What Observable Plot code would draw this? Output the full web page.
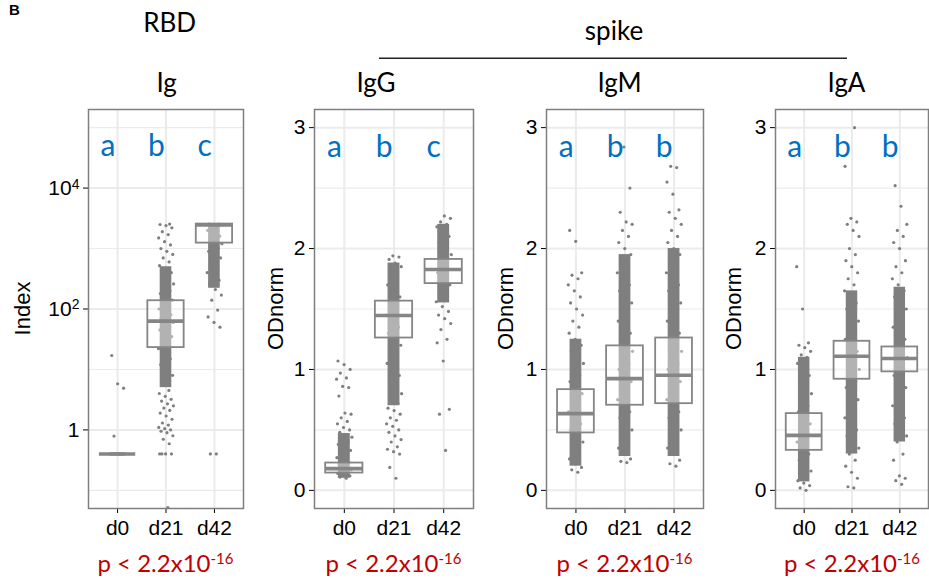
<!DOCTYPE html>
<html><head><meta charset="utf-8">
<script src="https://cdn.jsdelivr.net/npm/d3@7"></script>
<script src="https://cdn.jsdelivr.net/npm/@observablehq/plot@0.6"></script>
<style>
body{margin:0;background:#fff;}
#wrap{position:relative;width:929px;height:580px;overflow:hidden;background:#fff;}
.panel{position:absolute;top:0;}
#ann{position:absolute;left:0;top:0;pointer-events:none;}
</style></head><body><div id="wrap"></div>
<script>
const groups = ["d0", "d21", "d42"];

// ---- RBD Ig (Index, log scale) ----
const igQ1 = [0.4, 23, 1230];
const igMed = [0.4, 63, 2450];
const igQ3 = [0.4, 137, 2540];
const igCoreLo = [0.4, 5, 220];
const igCoreHi = [0.4, 500, 2540];
const igD0 = [0.4,0.4,0.4,0.4,0.4,0.4,0.4,0.4,0.4,0.4,0.4,0.4,0.4,0.4,0.79,4.9,5.8,17];
const igD21 = [0.052,0.4,0.4,0.4,0.4,0.59,0.7,0.8,0.9,0.95,1.0,1.05,1.1,1.2,1.3,1.5,1.7,1.9,2.1,2.3,2.5,2.7,3.0,3.2,3.6,4.0,4.5,6,8,10,12,15,18,22,26,30,35,40,45,50,55,60,65,70,80,90,100,110,120,140,160,180,200,230,260,300,350,400,450,520,600,700,800,900,1000,1150,1300,1500,1700,1900,2200,2400,2500,2540];
const igD42 = [0.4,0.4,50,60,74,96,140,170,210,260,300,350,400,500,600,700,800,900,1000,1100,1200,1300,1400,1600,1800,2000,2200,2350,2450,2500,2540,2540];
const igLetters = ["a", "b", "c"];

// ---- spike IgG (ODnorm) ----
const gQ1 = [0.143, 1.26, 1.71];
const gMed = [0.18, 1.446, 1.827];
const gQ3 = [0.226, 1.565, 1.91];
const gCoreLo = [0.1, 0.7, 1.55];
const gCoreHi = [0.47, 1.88, 2.2];
const gD0 = [0.1,0.11,0.12,0.13,0.14,0.15,0.16,0.17,0.19,0.21,0.23,0.25,0.27,0.29,0.31,0.33,0.35,0.38,0.4,0.42,0.44,0.46,0.48,0.5,0.52,0.55,0.57,0.6,0.63,0.64,0.78,0.85,0.86,0.92,0.93,0.97,1.0,1.04,1.07];
const gD21 = [0.1,0.19,0.3,0.32,0.34,0.36,0.4,0.42,0.45,0.48,0.5,0.53,0.55,0.58,0.6,0.63,0.66,0.68,0.72,0.75,0.8,0.85,0.9,0.95,1.0,1.05,1.1,1.15,1.2,1.25,1.3,1.35,1.4,1.45,1.5,1.55,1.6,1.65,1.7,1.75,1.8,1.85,1.88,1.91,1.93,1.94];
const gD42 = [0.33,0.63,0.67,1.07,1.22,1.25,1.33,1.38,1.42,1.45,1.48,1.52,1.56,1.6,1.65,1.7,1.75,1.8,1.85,1.9,1.95,2.0,2.05,2.1,2.15,2.18,2.2,2.22,2.25,2.27];
const gLetters = ["a", "b", "c"];

// ---- spike IgM (ODnorm) ----
const mQ1 = [0.475, 0.704, 0.717];
const mMed = [0.635, 0.924, 0.952];
const mQ3 = [0.833, 1.195, 1.26];
const mCoreLo = [0.2, 0.28, 0.28];
const mCoreHi = [1.25, 1.95, 2.0];
const mD0 = [0.15,0.17,0.19,0.22,0.26,0.3,0.35,0.4,0.45,0.5,0.55,0.6,0.65,0.7,0.75,0.8,0.85,0.9,0.95,1.0,1.05,1.1,1.15,1.2,1.25,1.3,1.35,1.4,1.45,1.5,1.55,1.6,1.65,1.7,1.75,1.78,1.8,2.06,2.15];
const mD21 = [0.23,0.24,0.26,0.3,0.35,0.4,0.45,0.5,0.55,0.6,0.65,0.7,0.75,0.8,0.85,0.9,0.95,1.0,1.05,1.1,1.15,1.2,1.25,1.3,1.35,1.4,1.45,1.5,1.55,1.6,1.65,1.7,1.75,1.8,1.85,1.9,1.95,2.0,2.05,2.1,2.15,2.2,2.22,2.3,2.5,2.84];
const mD42 = [0.2,0.22,0.25,0.3,0.35,0.4,0.45,0.5,0.55,0.6,0.65,0.7,0.75,0.8,0.85,0.9,0.95,1.0,1.05,1.1,1.15,1.2,1.25,1.3,1.35,1.4,1.45,1.5,1.55,1.6,1.65,1.7,1.75,1.8,1.85,1.9,1.95,2.0,2.05,2.1,2.15,2.2,2.25,2.3,2.32,2.45,2.55,2.67,2.68];
const mLetters = ["a", "b", "b"];

// ---- spike IgA (ODnorm) ----
const aQ1 = [0.331, 0.919, 0.98];
const aMed = [0.455, 1.109, 1.09];
const aQ3 = [0.635, 1.233, 1.186];
const aCoreLo = [0.07, 0.3, 0.4];
const aCoreHi = [1.1, 1.65, 1.68];
const aD0 = [0.0,0.02,0.04,0.06,0.08,0.1,0.13,0.16,0.2,0.25,0.3,0.35,0.4,0.45,0.5,0.55,0.6,0.65,0.7,0.75,0.8,0.85,0.9,0.95,1.0,1.05,1.1,1.12,1.15,1.18,1.2,1.22,1.5,1.85];
const aD21 = [0.02,0.03,0.1,0.15,0.2,0.25,0.3,0.35,0.4,0.45,0.5,0.55,0.6,0.65,0.7,0.75,0.8,0.85,0.9,0.95,1.0,1.05,1.1,1.15,1.2,1.25,1.3,1.35,1.4,1.45,1.5,1.55,1.6,1.65,1.7,1.75,1.8,1.85,1.9,1.95,2.0,2.1,2.15,2.2,2.22,2.25,2.68,3.0];
const aD42 = [0.05,0.08,0.1,0.12,0.25,0.3,0.4,0.45,0.5,0.55,0.6,0.65,0.7,0.75,0.8,0.85,0.9,0.95,1.0,1.05,1.1,1.15,1.2,1.25,1.3,1.35,1.4,1.45,1.5,1.55,1.6,1.65,1.7,1.75,1.8,1.85,1.9,2.0,2.05,2.1,2.15,2.2,2.35,2.52];
const aLetters = ["a", "b", "b"];

const titles = ["Ig", "IgG", "IgM", "IgA"];
const yTitles = ["Index", "ODnorm", "ODnorm", "ODnorm"];
const pText = "p < 2.2x10";
const pExp = "-16";

// ---------------- drawing ----------------
const GREY = "#7f7f7f";
const GRID = "#ebebeb";
const LETTER = "#0070C0";
const sup = {2: "\u00b2", 4: "\u2074"};

function jitter(i) { return (((i + 1) * 0.6180339887) % 1 - 0.5) * 0.32; }

function panel(cfg) {
  const boxes = groups.map((g, i) => ({
    c: i + 1, q1: cfg.q1[i], med: cfg.med[i], q3: cfg.q3[i], lo: cfg.lo[i], hi: cfg.hi[i]
  }));
  const pts = cfg.vals.flatMap((arr, gi) => arr.map((v, j) => ({x: gi + 1 + jitter(j), y: v})));
  const lets = cfg.letters.map((t, i) => ({x: i + 1 - 0.2, y: cfg.letterY, t}));
  const svg = Plot.plot({
    width: cfg.ml + cfg.fw + cfg.mr,
    height: 580,
    marginTop: 109, marginBottom: 72, marginLeft: cfg.ml, marginRight: cfg.mr,
    style: {fontFamily: "'Liberation Sans', Arial, sans-serif", fontSize: "21px", color: "#000", background: "transparent", overflow: "visible"},
    x: {type: "linear", domain: [0.4, 3.6], ticks: [1, 2, 3], tickFormat: d => groups[d - 1], tickSize: 5, tickPadding: 7, label: null},
    y: Object.assign({tickSize: 5, tickPadding: 4, label: null}, cfg.y),
    marks: [
      Plot.ruleY(cfg.minor, {stroke: GRID, strokeWidth: 1.1}),
      Plot.ruleY(cfg.major, {stroke: GRID, strokeWidth: 2}),
      Plot.ruleX([1, 2, 3], {stroke: GRID, strokeWidth: 2}),
      Plot.rect(boxes, {x1: d => d.c - 0.12, x2: d => d.c + 0.12, y1: "lo", y2: "hi", fill: GREY}),
      Plot.dot(pts, {x: "x", y: "y", r: 1.6, fill: GREY}),
      Plot.rect(boxes, {x1: d => d.c - 0.375, x2: d => d.c + 0.375, y1: "q1", y2: "q3", fill: "white", fillOpacity: 0.4, stroke: "#858585", strokeWidth: 1.8}),
      Plot.ruleY(boxes, {y: "med", x1: d => d.c - 0.375, x2: d => d.c + 0.375, stroke: "#858585", strokeWidth: 3.6}),
      Plot.text(lets, {x: "x", y: "y", text: "t", fill: LETTER, fontSize: 30, fontFamily: "Lato, 'Open Sans', sans-serif"}),
      Plot.frame({stroke: GREY, strokeWidth: 1.5})
    ]
  });
  svg.querySelectorAll("text").forEach(t => {
    if (t.closest('g[fill="' + LETTER + '"]')) return;
    t.style.fontSize = "21px";
    const m = /^10([\u00b2\u2074])$/.exec(t.textContent);
    if (m) {
      const e = m[1] === "\u00b2" ? "2" : "4";
      t.textContent = "10";
      const ts = document.createElementNS("http://www.w3.org/2000/svg", "tspan");
      ts.setAttribute("dy", "-0.45em");
      ts.style.fontSize = "14px";
      ts.textContent = e;
      t.appendChild(ts);
    }
  });
  svg.classList.add("panel");
  svg.style.left = cfg.left + "px";
  document.getElementById("wrap").appendChild(svg);
}

panel({
  left: 0, ml: 88, fw: 155, mr: 6,
  y: {type: "log", domain: [Math.pow(10, -1.3), Math.pow(10, 5.3)], ticks: [1, 100, 10000],
      tickFormat: d => d === 1 ? "1" : "10" + sup[Math.round(Math.log10(d))]},
  major: [1, 100, 10000], minor: [0.1, 10, 1000, 100000],
  q1: igQ1, med: igMed, q3: igQ3, lo: igCoreLo, hi: igCoreHi,
  vals: [igD0, igD21, igD42], letters: igLetters, letterY: Math.pow(10, 4.69)
});
const linY = {domain: [-0.15, 3.15], ticks: [0, 1, 2, 3], tickFormat: d => String(d)};
panel({left: 250, ml: 64, fw: 159, mr: 6, y: linY, major: [0, 1, 2, 3], minor: [0.5, 1.5, 2.5],
  q1: gQ1, med: gMed, q3: gQ3, lo: gCoreLo, hi: gCoreHi, vals: [gD0, gD21, gD42], letters: gLetters, letterY: 2.84});
panel({left: 480, ml: 66, fw: 157, mr: 6, y: linY, major: [0, 1, 2, 3], minor: [0.5, 1.5, 2.5],
  q1: mQ1, med: mMed, q3: mQ3, lo: mCoreLo, hi: mCoreHi, vals: [mD0, mD21, mD42], letters: mLetters, letterY: 2.84});
panel({left: 710, ml: 65, fw: 153, mr: 1, y: linY, major: [0, 1, 2, 3], minor: [0.5, 1.5, 2.5],
  q1: aQ1, med: aMed, q3: aQ3, lo: aCoreLo, hi: aCoreHi, vals: [aD0, aD21, aD42], letters: aLetters, letterY: 2.84});

// ---------------- annotations ----------------
const ann = d3.select("#wrap").append("svg").attr("id", "ann").attr("width", 929).attr("height", 580);
const TF = "Lato, 'Open Sans', sans-serif";
ann.append("text").attr("x", 9).attr("y", 15).attr("font-family", "'Liberation Sans', Arial").attr("font-weight", "bold").attr("font-size", 15).text("B");
ann.append("text").attr("x", 169.7).attr("y", 31.7).attr("text-anchor", "middle").attr("font-family", TF).attr("font-size", 26).text("RBD");
ann.append("text").attr("x", 614).attr("y", 40).attr("text-anchor", "middle").attr("font-family", TF).attr("font-size", 26).text("spike");
ann.append("line").attr("x1", 379).attr("x2", 847).attr("y1", 58.3).attr("y2", 58.3).attr("stroke", "#222").attr("stroke-width", 1.5);
const titleX = [166.7, 376, 619.5, 846.5];
titles.forEach((t, i) => ann.append("text").attr("x", titleX[i]).attr("y", 92).attr("text-anchor", "middle").attr("font-family", TF).attr("font-size", 26).text(t));
const ytX = [22, 275, 505, 733];
yTitles.forEach((t, i) => ann.append("text").attr("transform", `translate(${ytX[i]},308.5) rotate(-90)`).attr("text-anchor", "middle").attr("dominant-baseline", "central").attr("font-family", "'Liberation Sans', Arial").attr("font-size", 22).text(t));
const pX = [165.5, 393.5, 624.5, 852];
pX.forEach(x => {
  const t = ann.append("text").attr("x", x).attr("y", 572).attr("text-anchor", "middle").attr("font-family", TF).attr("font-size", 24).attr("fill", "#C00000");
  t.append("tspan").text(pText);
  t.append("tspan").attr("dy", -8).attr("font-size", 15).text(pExp);
});
</script></body></html>
